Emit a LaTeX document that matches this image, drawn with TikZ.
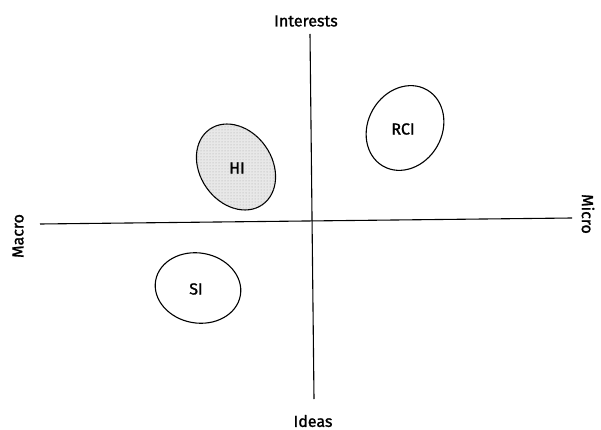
\documentclass[tikz,border=0pt]{standalone}
\usepackage{fontspec}
\setmainfont{Fira Sans}
\newfontfamily\lblfont{Fira Sans}[FakeBold=1.4]
\usetikzlibrary{patterns}
\begin{document}
\begin{tikzpicture}[x=1pt,y=-1pt,
  axis/.style={line width=1.1pt},
  blob/.style={line width=1.1pt},
  lbl/.style={font=\lblfont\fontsize{16}{18}\selectfont, inner sep=1pt}]
\useasboundingbox (0,0) rectangle (601,430);
% labels
\node[lbl] (int) at (306,21) {Interests};
\node[lbl] (ide) at (313,421) {Ideas};
\node[lbl, rotate=90] (mac) at (18,236) {Macro};
\node[lbl, rotate=-90] (mic) at (588,214) {Micro};
% axes
\coordinate (top) at (310,34);
\coordinate (bot) at (314,399);
\coordinate (lft) at (40,224);
\coordinate (rgt) at (572,218);
\draw[axis] (top) -- (bot);
\draw[axis] (lft) -- (rgt);
% ellipses
\draw[blob, fill=gray!18] (236,167) ellipse[x radius=36, y radius=46, rotate=35];
\fill[pattern=dots, pattern color=gray!70] (236,167) ellipse[x radius=36, y radius=46, rotate=35];
\node[lbl] (hi) at (237,168) {HI};
\draw[blob] (405,128) ellipse[x radius=37, y radius=44, rotate=-30];
\node[lbl] (rci) at (403,129) {RCI};
\draw[blob] (198,288) ellipse[x radius=43, y radius=35, rotate=-10];
\node[lbl] (si) at (196,289) {SI};
\end{tikzpicture}
\end{document}
